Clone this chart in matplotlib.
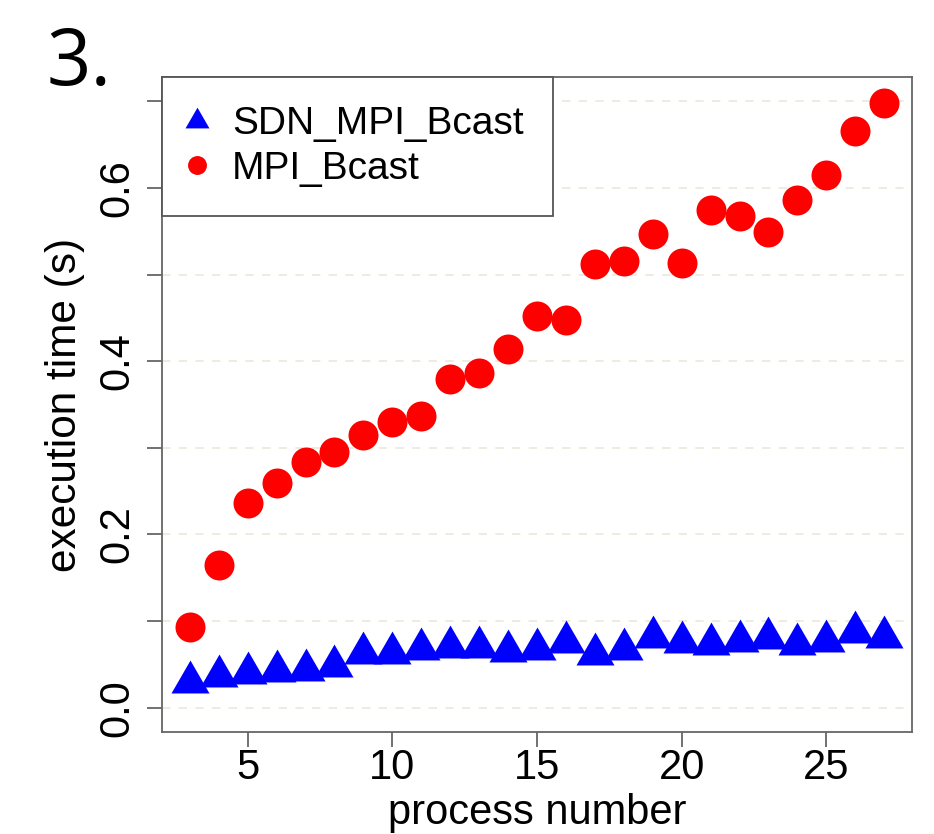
import numpy as np
import matplotlib
matplotlib.use("Agg")
import matplotlib.pyplot as plt

# ---- data ----
process_number = list(range(3, 28))
sdn_mpi_bcast = [0.030, 0.037, 0.040, 0.042, 0.043, 0.048, 0.063, 0.063, 0.068,
                 0.070, 0.070, 0.066, 0.068, 0.076, 0.062, 0.068, 0.082, 0.076,
                 0.074, 0.077, 0.080, 0.074, 0.077, 0.087, 0.082]
mpi_bcast = [0.093, 0.165, 0.236, 0.259, 0.284, 0.295, 0.315, 0.330, 0.337,
             0.379, 0.386, 0.414, 0.452, 0.448, 0.512, 0.516, 0.547, 0.513,
             0.574, 0.567, 0.549, 0.586, 0.615, 0.666, 0.698]
y_ticks = [0.0, 0.1, 0.2, 0.3, 0.4, 0.5, 0.6, 0.7]
y_ticklabels = ["0.0", "", "0.2", "", "0.4", "", "0.6", ""]
x_ticks = [5, 10, 15, 20, 25]
series_names = ["SDN_MPI_Bcast", "MPI_Bcast"]

plt.rcParams['font.family'] = ['Liberation Sans', 'DejaVu Sans']

fig = plt.figure(figsize=(9.34, 8.34), dpi=100)
ax = fig.add_axes([162/934, 1-732/834, (912-162)/934, (732-77)/834])

axis_col = '#666666'
tri = [(0, 1.555), (1.347, -0.778), (-1.347, -0.778)]

ax.plot(process_number, sdn_mpi_bcast, linestyle='none', marker=tri,
        markersize=31.6, color='#0000FF', markeredgewidth=0, label=series_names[0], zorder=3)
ax.plot(process_number, mpi_bcast, linestyle='none', marker='o',
        markersize=21.6, color='#FF0000', markeredgewidth=0, label=series_names[1], zorder=3)

ax.set_xlim(2.04, 27.96)
ax.set_ylim(-0.028, 0.728)
ax.set_xticks(x_ticks)
ax.set_yticks(y_ticks)
ax.set_yticklabels(y_ticklabels)

ax.yaxis.grid(True, linestyle=(0, (5, 5)), color='#EEE8DC', linewidth=1.2, zorder=0)
ax.set_axisbelow(True)

for s in ax.spines.values():
    s.set_color(axis_col)
    s.set_linewidth(1.3)

ax.tick_params(axis='both', direction='out', length=10.8, width=1.3, color=axis_col,
               labelsize=30, labelcolor='black')
ax.tick_params(axis='y', pad=7, labelrotation=90)
ax.tick_params(axis='x', pad=1)
for lbl in ax.get_yticklabels():
    lbl.set_va('center')

ax.set_xlabel('process number', fontsize=30, labelpad=3)
ax.set_ylabel('execution time (s)', fontsize=30.5, labelpad=9)

leg = ax.legend(loc='upper left', bbox_to_anchor=(0, 1), borderaxespad=0,
                fancybox=False, edgecolor='#555555', framealpha=1, fontsize=28,
                markerscale=0.63, borderpad=0.75, handlelength=0.3,
                handletextpad=0.75, labelspacing=0.22)
leg.get_frame().set_linewidth(1.3)
leg.set_zorder(5)

fig.text(47/934, 1-85/834, '3.', fontsize=56, family=['Open Sans', 'DejaVu Sans'],
         ha='left', va='baseline')

fig.savefig('out.png', dpi=100)
